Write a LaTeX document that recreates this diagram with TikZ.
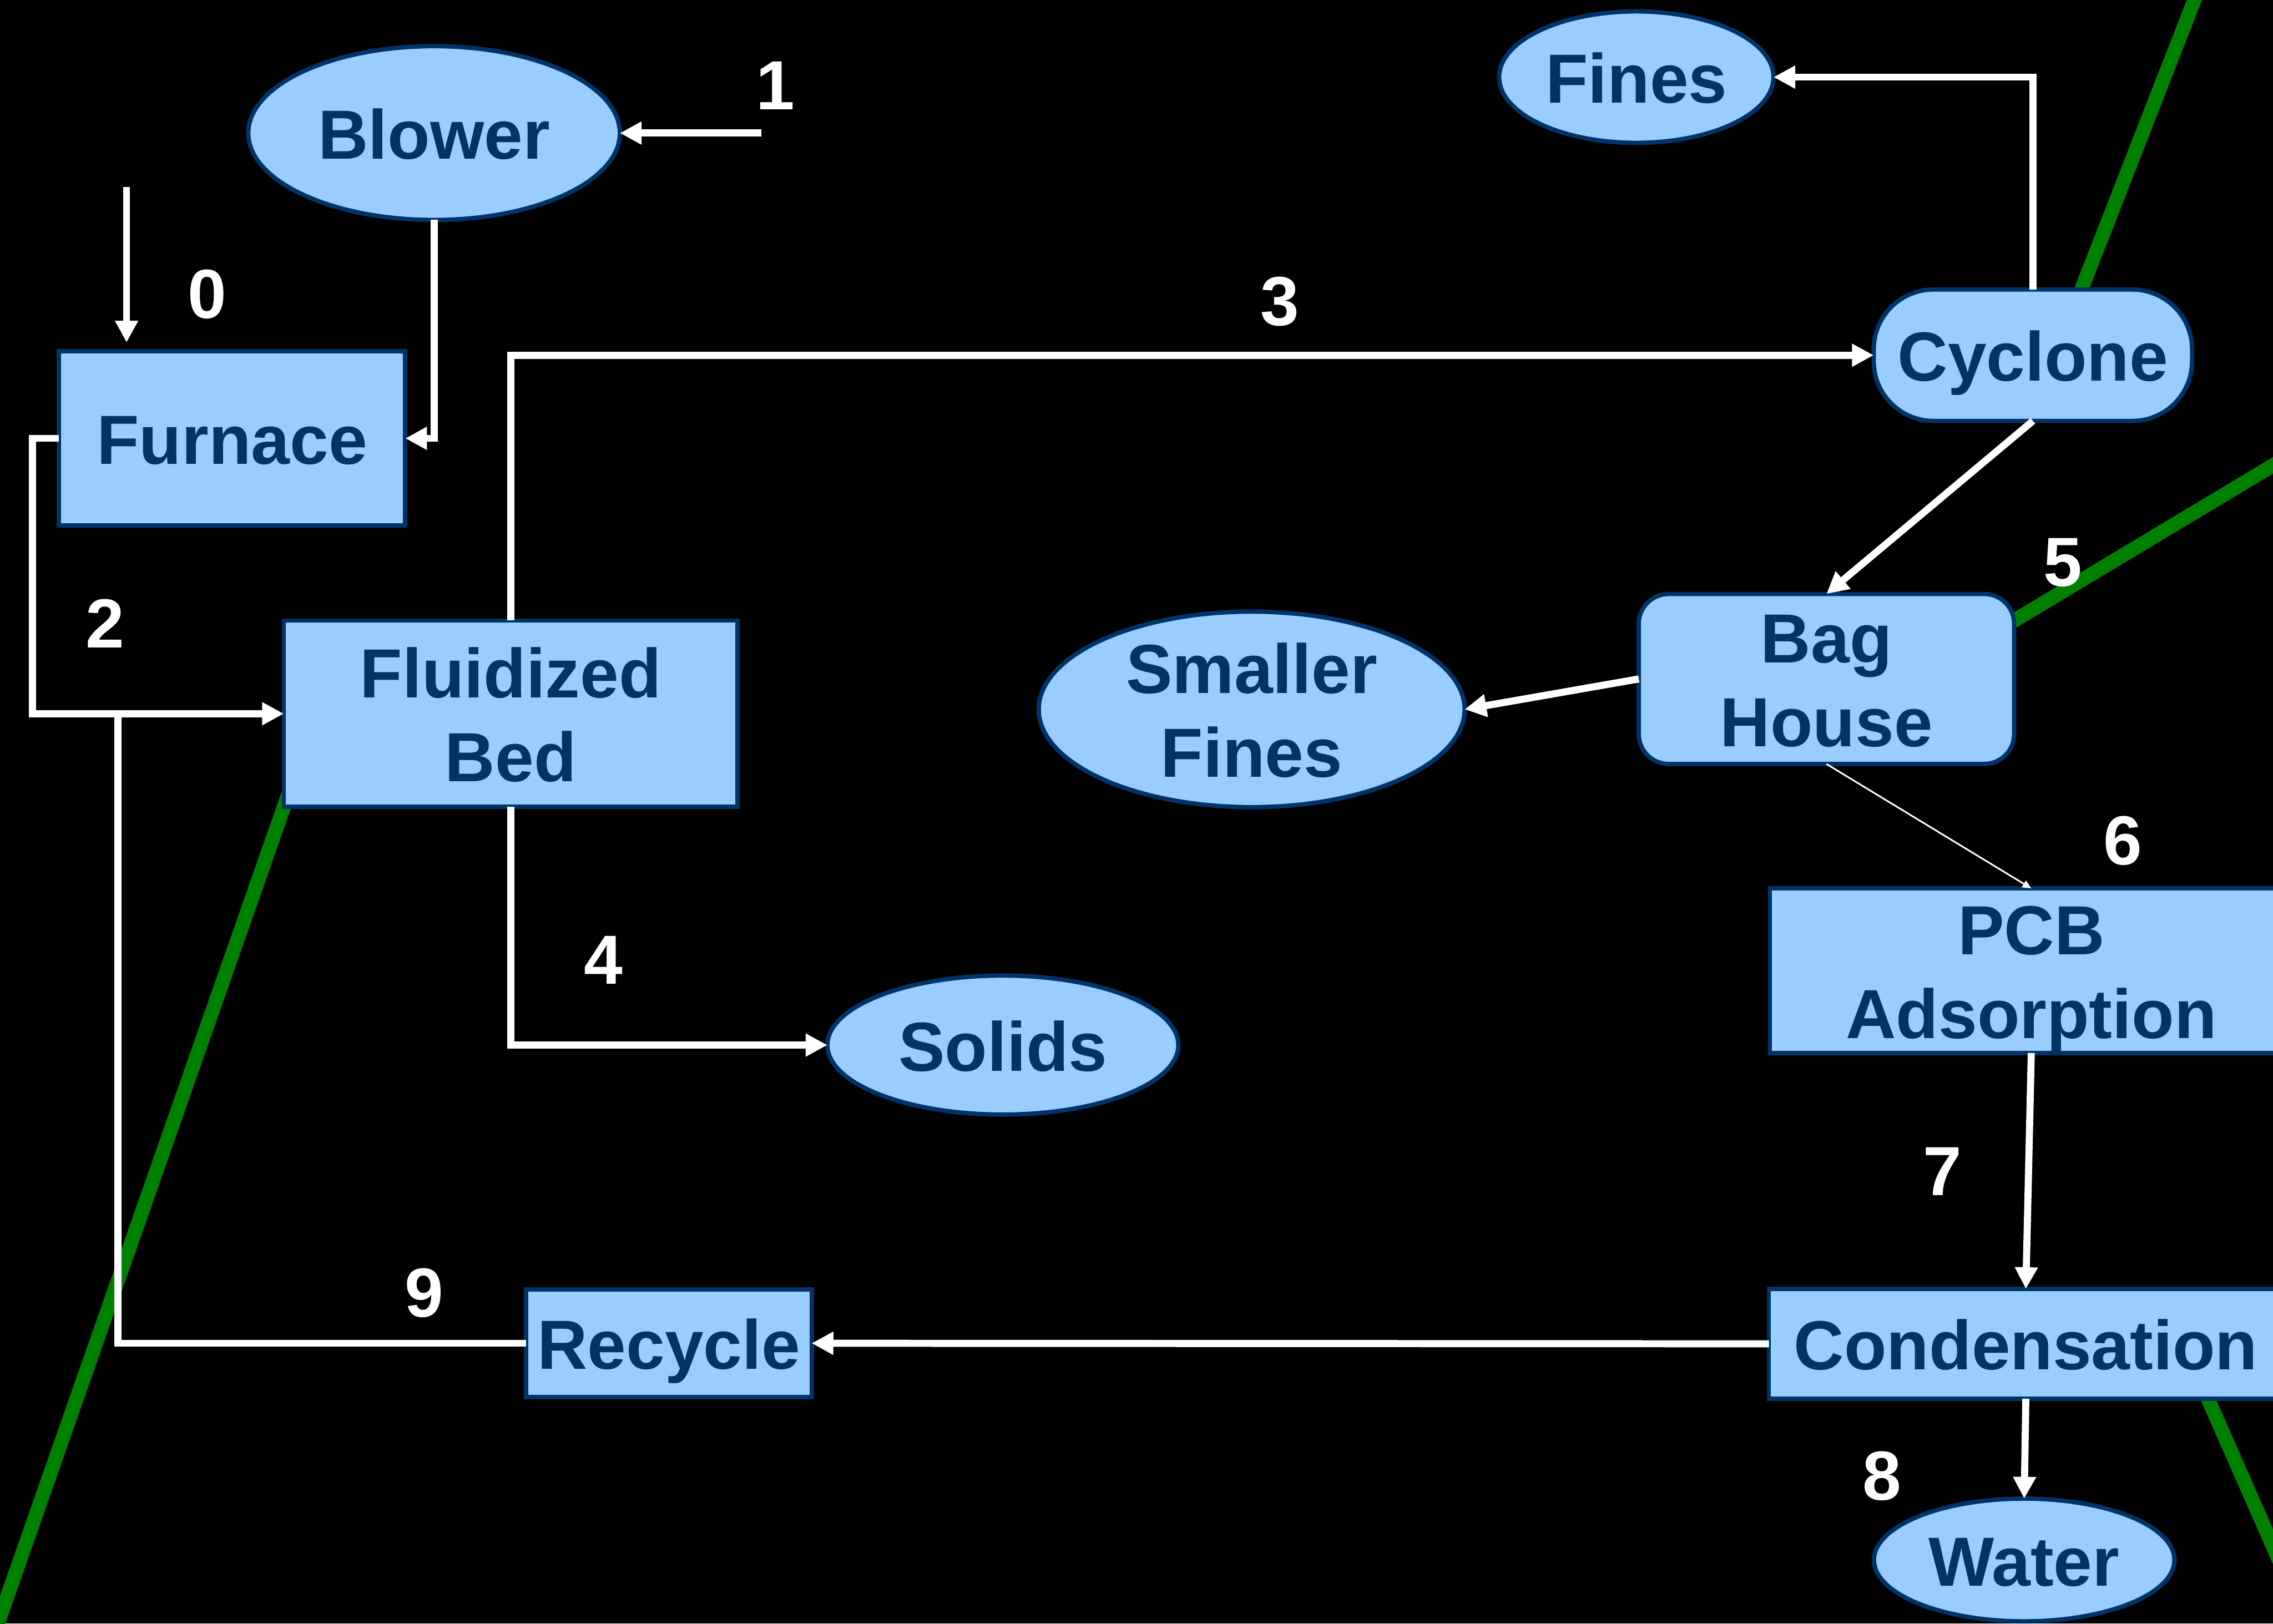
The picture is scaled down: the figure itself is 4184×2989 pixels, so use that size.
\documentclass[tikz,border=0pt]{standalone}
\usepackage{fontspec}
\setmainfont{Liberation Sans}
\usetikzlibrary{arrows.meta,shapes.geometric}
\definecolor{boxfill}{HTML}{99CCFF}
\definecolor{boxedge}{HTML}{003366}
\definecolor{guide}{HTML}{008000}
% invisible struts giving every text line the full ascent and descent
\newcommand\ascstrut{\rule{0pt}{122pt}}
\newcommand\descstrut{\rule[-27pt]{0pt}{27pt}}
\tikzset{
  bigtext/.style={font=\bfseries\fontsize{128}{154}\selectfont},
  unit/.style={draw=boxedge, line width=8pt, fill=boxfill, text=boxedge, bigtext,
    align=center, inner sep=0pt, outer sep=0pt},
  procbox/.style={unit, rectangle},
  roundbox/.style={unit, rectangle, rounded corners=#1},
  product/.style={unit, ellipse, inner ysep=-70pt},
  streamno/.style={text=white, bigtext, inner sep=0pt},
  flow/.style={draw=white, line width=13pt, -{Triangle[length=40pt,width=40pt]}},
  thinflow/.style={draw=white, line width=3pt, -{Triangle[length=16pt,width=14pt]}},
  guideline/.style={draw=guide, line width=26pt},
}
\begin{document}
\begin{tikzpicture}[x=1pt,y=-1pt]
\useasboundingbox (0,0) rectangle (4184,2989);
\fill[black] (0,0) rectangle (4184,2989);
\begin{scope}
\clip (0,0) rectangle (4184,2989);

% green guide strokes, lying under the units
\draw[guideline] (3805,600) -- (4047,-20);
\draw[guideline] (3650,1177) -- (4200,847);
\draw[guideline] (4039,2518) -- (4251,3000);
\draw[guideline] (563,1370) -- (-8,3000);

% process units and products
\node[product, minimum width=684pt, minimum height=320pt] (blower) at (799,245) {\ascstrut Blower\descstrut};
\node[procbox, minimum width=638pt, minimum height=321pt] (furnace) at (427,807) {\ascstrut Furnace\descstrut};
\node[procbox, minimum width=835pt, minimum height=343pt] (fb) at (940,1314) {\ascstrut Fluidized\\Bed\descstrut};
\node[product, minimum width=646pt, minimum height=256pt] (solids) at (1846,1924) {\ascstrut Solids\descstrut};
\node[product, minimum width=505pt, minimum height=242pt] (fines) at (3012,142) {\ascstrut Fines\descstrut};
\node[roundbox=110pt, minimum width=586pt, minimum height=242pt] (cyclone) at (3742,654) {\ascstrut Cyclone\descstrut};
\node[roundbox=55pt, minimum width=691pt, minimum height=313pt] (bag) at (3362,1250) {\ascstrut Bag\\House\descstrut};
\node[product, minimum width=784pt, minimum height=360pt] (sfines) at (2304,1306) {\ascstrut Smaller\\Fines\descstrut};
\node[procbox, minimum width=962pt, minimum height=298pt] (pcb) at (3739,1787) {\ascstrut PCB\\Adsorption\descstrut};
\node[procbox, minimum width=946pt, minimum height=202pt] (cond) at (3729,2474) {\ascstrut Condensation\descstrut};
\node[procbox, minimum width=526pt, minimum height=198pt] (recycle) at (1231,2473) {\ascstrut Recycle\descstrut};
\node[product, minimum width=553pt, minimum height=226pt] (water) at (3726,2872) {\ascstrut Water\descstrut};

% feed points and the recycle merge
\coordinate (in0) at (233,344);
\coordinate (in1) at (1401,245);
\coordinate (merge) at (217,1314);

% streams
\draw[flow, shorten >=16pt] (in0) -- (in0 |- furnace.north);
\draw[flow] (in1) -- (blower.east);
\draw[flow] (blower.south) |- (furnace.east);
\draw[flow] (furnace.west) -- ++(-48,0) |- (fb.west);
\draw[draw=white, line width=13pt] (recycle.west) -| (merge);
\draw[flow] (fb.north) |- (cyclone.west);
\draw[flow] (fb.south) |- (solids.west);
\draw[flow] (cyclone.north) |- (fines.east);
\draw[flow] (cyclone.south) -- (bag.north);
\draw[flow] (bag.west) -- (sfines.east);
\draw[thinflow] (bag.south) -- (pcb.north);
\draw[flow] (pcb.south) -- (cond.north);
\draw[flow] (cond.south) -- (water.north);
\draw[flow] (cond.west) -- (recycle.east);

% stream numbers
\node[streamno] (s0) at (381,542) {0};
\node[streamno] (s1) at (1427,158) {1};
\node[streamno] (s2) at (193,1148) {2};
\node[streamno] (s3) at (2356,555) {3};
\node[streamno] (s4) at (1111,1768) {4};
\node[streamno] (s5) at (3797,1036) {5};
\node[streamno] (s6) at (3907,1548) {6};
\node[streamno] (s7) at (3575,2157) {7};
\node[streamno] (s8) at (3464,2717) {8};
\node[streamno] (s9) at (781,2380) {9};
\end{scope}
\end{tikzpicture}
\end{document}
